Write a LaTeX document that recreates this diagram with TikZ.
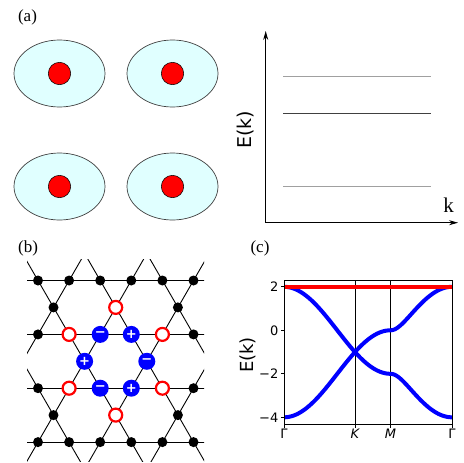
\documentclass[tikz,border=0pt]{standalone}
\usepackage{fontspec}
\setmainfont{Liberation Serif}
\newfontfamily\djv{DejaVu Sans}
\usetikzlibrary{shapes.geometric,arrows.meta}
\definecolor{orbfill}{HTML}{E0FFFF}
\definecolor{lvlgray}{HTML}{A0A0A0}
\definecolor{lvldark}{HTML}{404040}
\begin{document}
\begin{tikzpicture}[x=1pt,y=-1pt,
  orb/.style={ellipse, draw=black!75, line width=0.7pt, fill=orbfill, minimum width=91pt, minimum height=67pt, inner sep=0pt},
  nuc/.style={circle, draw=black, line width=0.5pt, fill=red, minimum size=22.4pt, inner sep=0pt},
  axisarrow/.style={line width=0.8pt, -{Stealth[length=9pt,width=5pt]}},
  lvllight/.style={line width=1.3pt, draw=lvlgray},
  lvlmid/.style={line width=1pt, draw=lvldark},
  panel/.style={font=\fontsize{17}{17}\selectfont},
  lat/.style={line width=0.9pt, draw=black},
  bsite/.style={circle, fill=black, minimum size=10pt, inner sep=0pt},
  rsite/.style={circle, draw=red, line width=2.2pt, fill=white, minimum size=13pt, inner sep=0pt},
  usite/.style={circle, fill=blue, minimum size=17pt, inner sep=0pt, text=white, font=\djv\bfseries\fontsize{13}{13}\selectfont},
  band/.style={line width=4pt, draw=blue, line join=round},
  flat/.style={line width=3.6pt, draw=red},
  tick/.style={font=\djv\fontsize{13}{13}\selectfont},
  declare function={
    c2(\a)=cos(\a)*cos(\a);
    eb(\s)=sqrt(max(4*\s-3,0));
    ypx(\e)=330.3-21.75*\e;
  }
]
\path[use as bounding box] (0,0) rectangle (463,463);

% ---------------- panel (a) ----------------
\node[panel] (la) at (27.5,17.5) {(a)};
\node[orb] (o1) at (59.5,73.5) {};
\node[orb] (o2) at (172.5,73.5) {};
\node[orb] (o3) at (59.5,186.5) {};
\node[orb] (o4) at (172.5,186.5) {};
\node[nuc] (n1) at (o1.center) {};
\node[nuc] (n2) at (o2.center) {};
\node[nuc] (n3) at (o3.center) {};
\node[nuc] (n4) at (o4.center) {};

\coordinate (org) at (265.7,222.7);
\coordinate (ytop) at (265.7,31);
\coordinate (xend) at (458,222.7);
\draw[axisarrow] (org) -- (ytop);
\draw[axisarrow] (org) -- (xend);
\coordinate (l1a) at (283.3,76.7);  \coordinate (l1b) at (430.7,76.7);
\coordinate (l2a) at (283.3,113.3); \coordinate (l2b) at (430.7,113.3);
\coordinate (l3a) at (283.3,186.7); \coordinate (l3b) at (430.7,186.7);
\draw[lvllight] (l1a) -- (l1b);
\draw[lvlmid] (l2a) -- (l2b);
\draw[lvllight] (l3a) -- (l3b);
\node[rotate=90, font=\djv\fontsize{19}{19}\selectfont] (eka) at (246,130) {E(k)};
\node[font=\fontsize{21}{21}\selectfont] (kl) at (448.5,205) {k};

% ---------------- panel (b) ----------------
\node[panel] (lb) at (28,248) {(b)};
\begin{scope}
  \clip (27,259) rectangle (204,461);
  \foreach \j in {0,...,3}
    \draw[lat] (20,{280.5+53.86*\j}) -- (210,{280.5+53.86*\j});
  \foreach \k in {-4,...,6} {
    \draw[lat] ({38+62.2*\k-17.6},250) -- ({38+62.2*\k+109.4},470);
    \draw[lat] ({69.1+62.2*\k+17.6},250) -- ({69.1+62.2*\k-109.4},470);
  }
\end{scope}
% black sites
\foreach \n in {0,...,5} {
  \node[bsite] (ta\n) at ({38+31.1*\n},280.5) {};
  \node[bsite] (tb\n) at ({38+31.1*\n},442.1) {};
}
\node[bsite] (b1) at (38,334.4) {};
\node[bsite] (b2) at (193.5,334.4) {};
\node[bsite] (b3) at (38,388.2) {};
\node[bsite] (b4) at (193.5,388.2) {};
\node[bsite] (b5) at (53.5,307.4) {};
\node[bsite] (b6) at (177.9,307.4) {};
\node[bsite] (b7) at (53.5,415.1) {};
\node[bsite] (b8) at (177.9,415.1) {};
% red sites
\node[rsite] (r1) at (115.7,307.4) {};
\node[rsite] (r2) at (69.1,334.4) {};
\node[rsite] (r3) at (162.4,334.4) {};
\node[rsite] (r4) at (69.1,388.2) {};
\node[rsite] (r5) at (162.4,388.2) {};
\node[rsite] (r6) at (115.7,415.1) {};
% blue sites
\node[usite] (u1) at (100.2,334.4) {−};
\node[usite] (u2) at (131.3,334.4) {+};
\node[usite] (u3) at (146.8,361.3) {−};
\node[usite] (u4) at (131.3,388.2) {+};
\node[usite] (u5) at (100.2,388.2) {−};
\node[usite] (u6) at (84.6,361.3) {+};

% ---------------- panel (c) ----------------
\node[panel] (lc) at (260,248.5) {(c)};
\coordinate (bl) at (284,424);
\coordinate (tr) at (452,280);
\coordinate (kb) at (355,424); \coordinate (kt) at (355,280);
\coordinate (mb) at (390.5,424); \coordinate (mt) at (390.5,280);
\draw[line width=0.9pt] (kb) -- (kt);
\draw[line width=0.9pt] (mb) -- (mt);
\begin{scope}
  \clip (bl) rectangle (tr);
  \foreach \sg in {1,-1}
    \draw[band] plot[domain=0:120,samples=61] ({284+71*\x/120},{ypx(-1+(\sg)*eb(c2(\x)+2*c2(\x/2)))})
      -- plot[domain=0:1,samples=31] ({355+35.5*\x},{ypx(-1+(\sg)*eb(c2(120-30*\x)+c2(60+30*\x)+c2(60*\x-60)))})
      -- plot[domain=0:1,samples=51] ({390.5+61.5*\x},{ypx(-1+(\sg)*eb(2*c2(90-90*\x)+1))});
  \coordinate (fa) at (284,{ypx(2)});
  \coordinate (fb) at (452,{ypx(2)});
  \draw[flat] (fa) -- (fb);
\end{scope}
\draw[line width=0.9pt] (bl) rectangle (tr);
% y ticks
\foreach \e/\lab in {2/2,0/0,-2/−2,-4/−4} {
  \draw[line width=0.8pt] (284,{ypx(\e)}) -- (280.5,{ypx(\e)});
  \node[tick, anchor=east, inner sep=1pt] (yt\e) at (279.5,{ypx(\e)}) {\lab};
}
% x ticks
\foreach \xx/\nm in {284/g1,355/k,390.5/m,452/g2}
  \draw[line width=0.8pt] (\xx,424) -- (\xx,427.5);
\node[tick, anchor=north, inner sep=1pt] (xg1) at (284,428) {Γ};
\node[tick, anchor=north, inner sep=1pt] (xk) at (355,428) {\itshape K};
\node[tick, anchor=north, inner sep=1pt] (xm) at (390.5,428) {\itshape M};
\node[tick, anchor=north, inner sep=1pt] (xg2) at (452,428) {Γ};
\node[rotate=90, font=\djv\fontsize{18}{18}\selectfont] (ekc) at (248,355) {E(k)};
\end{tikzpicture}
\end{document}
